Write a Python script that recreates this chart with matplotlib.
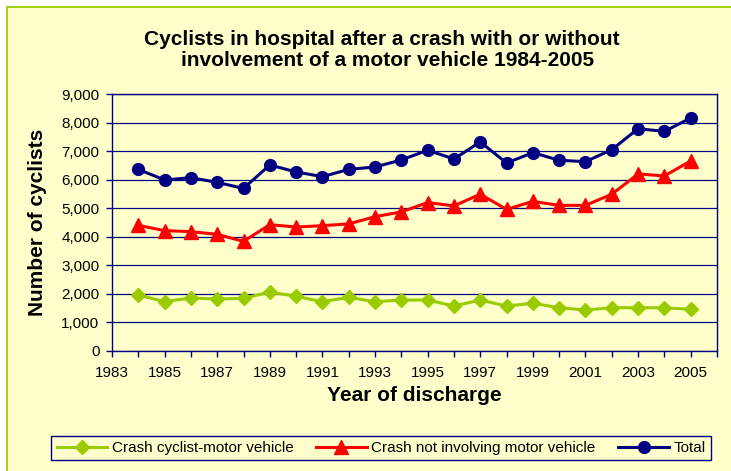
import matplotlib
matplotlib.use("Agg")
import matplotlib.pyplot as plt
from matplotlib.patches import Rectangle
from matplotlib.ticker import FuncFormatter, MultipleLocator

plt.rcParams["font.family"] = ["Liberation Sans", "DejaVu Sans"]

years = list(range(1984, 2006))
motor_vehicle = [1960, 1730, 1855, 1820, 1845, 2065, 1915, 1725, 1880, 1725, 1785,
                 1785, 1575, 1785, 1575, 1670, 1515, 1435, 1515, 1515, 1515, 1460]
no_motor_vehicle = [4400, 4215, 4180, 4085, 3840, 4425, 4340, 4390, 4450, 4705, 4870,
                    5200, 5080, 5490, 4960, 5240, 5100, 5100, 5490, 6200, 6130, 6655]
total = [6360, 5990, 6070, 5905, 5695, 6515, 6270, 6105, 6360, 6445, 6690,
         7030, 6725, 7320, 6585, 6945, 6680, 6630, 7050, 7785, 7690, 8160]

BG = "#FFFFCC"
NAVY = "#000080"
GREEN = "#99CC00"
RED = "#FF0000"

fig = plt.figure(figsize=(7.31, 4.71), dpi=100)
fig.patch.set_facecolor("white")
# chart area with green border (runs past the right/bottom edge)
fig.patches.append(Rectangle((7 / 731, -0.05), 1.2, 1 - 7 / 471 + 0.05, transform=fig.transFigure,
                             facecolor=BG, edgecolor=GREEN, lw=1.3, zorder=-5))

ax = fig.add_axes([112 / 731, 1 - 351 / 471, 605 / 731, 257 / 471])
ax.set_facecolor(BG)

ax.plot(years, motor_vehicle, color=GREEN, lw=2.2, marker="D", ms=7.5,
        label="Crash cyclist-motor vehicle", zorder=3)
ax.plot(years, no_motor_vehicle, color=RED, lw=2.2, marker="^", ms=9.5,
        label="Crash not involving motor vehicle", zorder=3)
ax.plot(years, total, color=NAVY, lw=2.2, marker="o", ms=8.5, label="Total", zorder=3)

ax.set_xlim(1983, 2006)
ax.set_ylim(0, 9000)
ax.xaxis.set_major_locator(MultipleLocator(1))
ax.xaxis.set_major_formatter(FuncFormatter(lambda v, p: f"{int(v)}" if int(v) % 2 == 1 and v < 2006 else ""))
ax.yaxis.set_major_locator(MultipleLocator(1000))
ax.yaxis.set_major_formatter(FuncFormatter(lambda v, p: f"{int(v):,}"))
ax.grid(axis="y", color=NAVY, lw=0.9)
ax.set_axisbelow(True)
for s in ax.spines.values():
    s.set_color(NAVY)
    s.set_linewidth(1.0)
ax.tick_params(colors=NAVY, labelcolor="black", labelsize=11, direction="out", length=4, width=1)
ax.tick_params(axis="x", pad=7)
ax.tick_params(axis="y", pad=5)

ax.set_xlabel("Year of discharge", fontsize=15, fontweight="bold", labelpad=4)
ax.set_ylabel("Number of cyclists", fontsize=15, fontweight="bold", labelpad=10)

fig.text(382 / 731, 1 - 45 / 471, "Cyclists in hospital after a crash with or without",
         ha="center", va="baseline", fontsize=15, fontweight="bold")
fig.text(388 / 731, 1 - 66 / 471, "involvement of a motor vehicle 1984-2005",
         ha="center", va="baseline", fontsize=15, fontweight="bold")

leg = fig.legend(loc="center", bbox_to_anchor=(381 / 731, 1 - 448 / 471), ncol=3, fontsize=11,
                 frameon=True, fancybox=False, edgecolor=NAVY, facecolor=BG, framealpha=1,
                 handlelength=3.3, handletextpad=0.3, columnspacing=1.5, borderpad=0.35)
leg.get_frame().set_linewidth(1.0)

fig.savefig("out.png", dpi=100)
